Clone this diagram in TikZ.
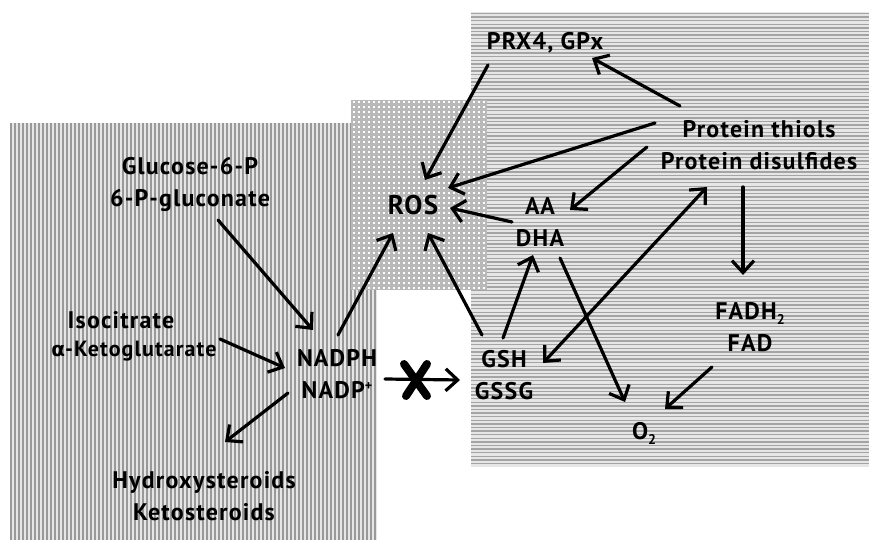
\documentclass[tikz,border=0pt]{standalone}
\usepackage{fontspec}
\setmainfont{PT Sans}[LetterSpace=5]
\newfontfamily\grk{DejaVu Sans}
\usetikzlibrary{arrows.meta,calc}
\newcommand\mysub[1]{\raisebox{-5pt}{\fontsize{14}{14}\selectfont #1}}
\newcommand\mysup[1]{\raisebox{8pt}{\fontsize{14}{14}\selectfont #1}}
\definecolor{bgA}{HTML}{E6E6E6}
\definecolor{lnA}{HTML}{999999}
\definecolor{bgB}{HTML}{E6E6E6}
\definecolor{lnB}{HTML}{A4A4A4}
\definecolor{bgC}{HTML}{B9B9B9}
\begin{document}
\begin{tikzpicture}[x=1pt,y=-1pt,
  lbl/.style={font=\fontsize{24}{32}\selectfont\bfseries, align=center, inner sep=0pt},
  tipV/.tip={Straight Barb[length=12pt,width=22pt,line width=3.2pt]},
  arr/.style={-tipV, line width=3.2pt, line cap=round},
  arrtwo/.style={tipV-tipV, line width=3.2pt, line cap=round},
  crossmark/.style={line width=8pt, line cap=round}]
\useasboundingbox (0,0) rectangle (869,540);
\fill[white] (0,0) rectangle (869,540);
% left region: vertical lines
\fill[bgA] (10,123) rectangle (377,540);
\foreach \x in {11,15,...,377} \draw[lnA,line width=1.5pt] (\x,123) -- (\x,540);
% right region: horizontal lines
\fill[bgB] (471,12) rectangle (869,467);
\foreach \y in {13.5,17.1,...,467} \draw[lnB,line width=1.5pt] (471,\y) -- (869,\y);
% middle region: dots
\fill[bgC] (351,100) rectangle (487,290);
\foreach \y in {102.5,107.5,...,290} \draw[white,line width=2pt,dash pattern=on 2pt off 3pt] (353,\y) -- (487,\y);

% nodes
\node[lbl] (prx) at (545,43) {PRX4, GPx};
\node[lbl] (pt) at (759,145) {Protein thiols\\Protein disulfides};
\node[lbl] (aa) at (540,222) {AA\\DHA};
\node[lbl, font=\fontsize{27}{32}\selectfont\bfseries] (ros) at (413,205) {ROS};
\node[lbl] (glu) at (190,184) {Glucose-6-P\\6-P-gluconate};
\node[lbl] (iso) at (121,320) {Isocitrate};
\node[lbl, font=\fontsize{22}{32}\selectfont\bfseries] (akg) at (134,351) {{\grk\bfseries\fontsize{20}{32}\selectfont α}-Ketoglutarate};
\node[lbl] (nadph) at (337,374) {NADPH\\NADP\mysup{+}};
\node[lbl] (hyd) at (204,496) {Hydroxysteroids\\Ketosteroids};
\node[lbl] (gsh) at (504,375) {GSH\\GSSG};
\node[lbl] (fad) at (750,327) {FADH\mysub{2}\\FAD};
\node[lbl] (o2) at (644,433) {O\mysub{2}};
\coordinate (xmark) at (416,380);

% connectors
\draw[arr] ($(prx)+(-57,22)$) -- ($(ros)+(12,-25)$);
\draw[arr] ($(pt)+(-79,-39)$) -- ($(prx)+(47,15)$);
\draw[arr] ($(pt)+(-104,-22)$) -- ($(ros)+(35,-17)$);
\draw[arr] ($(pt)+(-112,2)$) -- ($(aa)+(30,-12)$);
\draw[arr] ($(aa)+(-28,0)$) -- ($(ros)+(37,3)$);
\draw[arrtwo] ($(gsh)+(39,-12)$) -- ($(pt)+(-52,42)$);
\draw[arr] ($(pt)+(-16,42)$) -- ($(fad)+(-7,-52)$);
\draw[arr] ($(fad)+(-38,40)$) -- ($(o2)+(21,-24)$);
\draw[arr] ($(aa)+(20,36)$) -- ($(o2)+(-19,-31)$);
\draw[arr] ($(gsh)+(-1,-37)$) -- ($(aa)+(-7,33)$);
\draw[arr] ($(gsh)+(-22,-40)$) -- ($(ros)+(15,28)$);
\draw[arr] ($(nadph)+(1,-39)$) -- ($(ros)+(-20,28)$);
\draw[arr] ($(glu)+(28,36)$) -- ($(nadph)+(-24,-44)$);
\draw[arr] ($(akg)+(86,-12)$) -- ($(nadph)+(-52,-6)$);
\draw[arr] ($(nadph)+(-49,19)$) -- ($(hyd)+(21,-54)$);
\draw[arr] ($(nadph)+(48,5)$) -- ($(gsh)+(-44,5)$);
% blocking cross
\draw[crossmark] ($(xmark)+(-12,-16)$) -- ($(xmark)+(11,16)$);
\draw[crossmark] ($(xmark)+(11,-16)$) -- ($(xmark)+(-10,16)$);
\end{tikzpicture}
\end{document}
